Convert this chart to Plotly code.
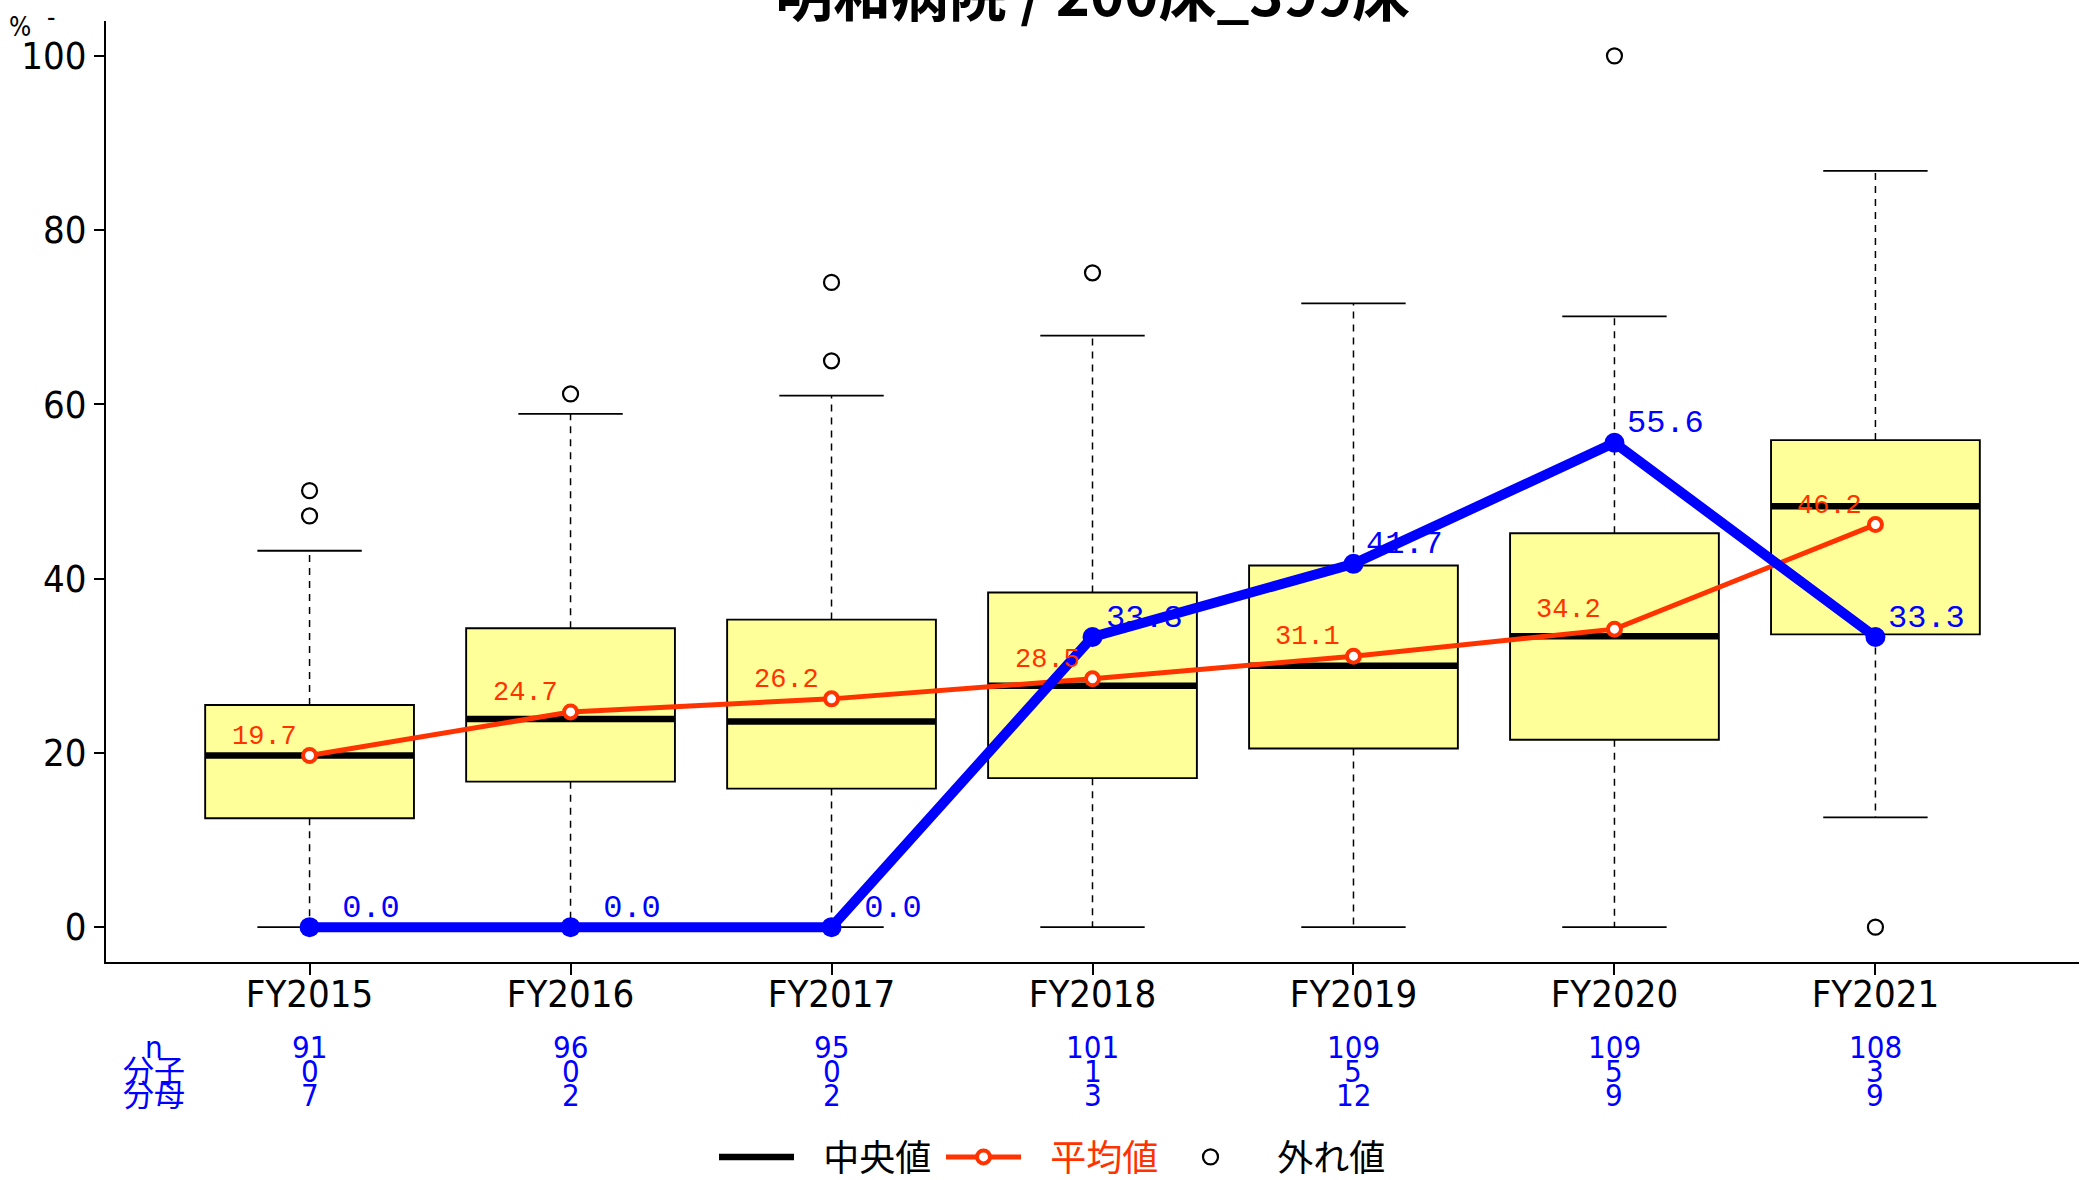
import plotly.graph_objects as go

# ---------------- data ----------------
categories = ["FY2015", "FY2016", "FY2017", "FY2018", "FY2019", "FY2020", "FY2021"]
q1 = [12.5, 16.7, 15.9, 17.1, 20.5, 21.5, 33.6]
median = [19.7, 23.9, 23.6, 27.7, 30.0, 33.4, 48.3]
q3 = [25.5, 34.3, 35.3, 38.4, 41.5, 45.2, 55.9]
lower_whisker = [0.0, 0.0, 0.0, 0.0, 0.0, 0.0, 12.6]
upper_whisker = [43.2, 58.9, 61.0, 67.9, 71.6, 70.1, 86.8]
outliers = [[50.1, 47.2], [61.2], [65.0, 74.0], [75.1], [], [100.0], [0.0]]
mean_values = [19.7, 24.7, 26.2, 28.5, 31.1, 34.2, 46.2]
hospital_values = [0.0, 0.0, 0.0, 33.3, 41.7, 55.6, 33.3]
n_values = [91, 96, 95, 101, 109, 109, 108]
numerators = [0, 0, 0, 1, 5, 5, 3]
denominators = [7, 2, 2, 3, 12, 9, 9]
row_labels = ["n", "分子", "分母"]
y_ticks = [0, 20, 40, 60, 80, 100]
title_text = "明和病院 / 200床_399床"

# ---------------- style / layout constants ----------------
W, H = 2086, 1180
ML, MR, MT, MB = 106, 7, 21, 218
PLOT_W = W - ML - MR
PLOT_H = H - MT - MB
BOX_W = 0.8
CAP_W = 0.4
RED = "#FF3300"
BLUE = "#0000FF"
YELLOW = "#FFFF99"
NARROW = "Liberation Sans Narrow, Arial Narrow, DejaVu Sans Condensed, Liberation Sans, Noto Sans CJK JP, sans-serif"
MONO = "Liberation Mono, DejaVu Sans Mono, monospace"
CJK = "Noto Sans CJK JP, Liberation Sans Narrow, sans-serif"
PAD = "\u00a0\u00a0\u00a0"


def py(pix):  # pixel row -> paper y
    return (H - MB - pix) / PLOT_H


def px(pix):  # pixel column -> paper x
    return (pix - ML) / PLOT_W


def fmt(v):
    return f"{v:4.1f}".replace(" ", "\u00a0")


xs = list(range(1, len(categories) + 1))

# whiskers (dashed), caps, medians
wx, wy, cx, cy, mx, my = [], [], [], [], [], []
for i, x in enumerate(xs):
    wx += [x, x, None, x, x, None]
    wy += [q3[i], upper_whisker[i], None, q1[i], lower_whisker[i], None]
    cx += [x - CAP_W / 2, x + CAP_W / 2, None, x - CAP_W / 2, x + CAP_W / 2, None]
    cy += [upper_whisker[i], upper_whisker[i], None, lower_whisker[i], lower_whisker[i], None]
    mx += [x - BOX_W / 2, x + BOX_W / 2, None]
    my += [median[i], median[i], None]

ox, oy = [], []
for x, vals in zip(xs, outliers):
    for v in vals:
        ox.append(x)
        oy.append(v)

fig = go.Figure()

fig.add_trace(go.Scatter(x=wx, y=wy, mode="lines", showlegend=False, hoverinfo="skip",
                         line=dict(color="black", width=1.5, dash="7px,6px")))
fig.add_trace(go.Scatter(x=cx, y=cy, mode="lines", showlegend=False, hoverinfo="skip",
                         line=dict(color="black", width=1.8)))
fig.add_trace(go.Box(x=xs, q1=q1, median=median, q3=q3, lowerfence=q1, upperfence=q3,
                     width=BOX_W, fillcolor=YELLOW, line=dict(color="black", width=1.9),
                     whiskerwidth=0, boxpoints=False, showlegend=False, hoverinfo="skip"))
fig.add_trace(go.Scatter(x=mx, y=my, mode="lines", name=PAD + "中央値",
                         line=dict(color="black", width=6.5)))
fig.add_trace(go.Scatter(x=xs, y=mean_values, mode="lines+markers",
                         name=f'{PAD}<span style="color:{RED}">平均値</span>',
                         line=dict(color=RED, width=5),
                         marker=dict(symbol="circle", size=13, color="white",
                                     line=dict(color=RED, width=4))))
fig.add_trace(go.Scatter(x=ox, y=oy, mode="markers", name=PAD + "外れ値",
                         marker=dict(symbol="circle-open", size=15, color="black",
                                     line=dict(color="black", width=2.2))))
fig.add_trace(go.Scatter(x=xs, y=hospital_values, mode="lines+markers", showlegend=False,
                         line=dict(color=BLUE, width=10),
                         marker=dict(symbol="circle", size=20, color=BLUE)))

annotations = []
for x, v in zip(xs, mean_values):
    annotations.append(dict(x=x, y=v, xref="x", yref="y", text=fmt(v), showarrow=False,
                            xanchor="right", yanchor="middle", xshift=-11, yshift=19,
                            font=dict(family=MONO, size=27, color=RED)))
for x, v in zip(xs, hospital_values):
    annotations.append(dict(x=x, y=v, xref="x", yref="y", text=fmt(v), showarrow=False,
                            xanchor="left", yanchor="middle", xshift=11, yshift=19,
                            font=dict(family=MONO, size=32, color=BLUE)))

row_pix = [1047, 1071, 1095]
rows = [n_values, numerators, denominators]
for label, rp, vals in zip(row_labels, row_pix, rows):
    annotations.append(dict(x=px(154), y=py(rp), xref="paper", yref="paper", text=label,
                            showarrow=False, xanchor="center", yanchor="middle",
                            font=dict(family=NARROW, size=31, color=BLUE)))
    for x, v in zip(xs, vals):
        annotations.append(dict(x=x, y=py(rp), xref="x", yref="paper", text=str(v),
                                showarrow=False, xanchor="center", yanchor="middle",
                                font=dict(family=NARROW, size=31, color=BLUE)))

annotations.append(dict(x=0.5, y=py(-9), xref="paper", yref="paper", text=f"<b>{title_text}</b>",
                        showarrow=False, xanchor="center", yanchor="middle",
                        font=dict(family=CJK, size=58, color="black")))
annotations.append(dict(x=px(20), y=py(27), xref="paper", yref="paper", text="%",
                        showarrow=False, xanchor="center", yanchor="middle",
                        font=dict(family=NARROW, size=26, color="black")))
annotations.append(dict(x=px(51), y=py(17), xref="paper", yref="paper", text="-",
                        showarrow=False, xanchor="center", yanchor="middle",
                        font=dict(family=NARROW, size=26, color="black")))

fig.update_layout(
    width=W, height=H,
    margin=dict(l=ML, r=MR, t=MT, b=MB, pad=0, autoexpand=False),
    paper_bgcolor="white", plot_bgcolor="white",
    annotations=annotations,
    legend=dict(orientation="h", x=px(714), xanchor="left", y=py(1157), yanchor="middle",
                font=dict(family=CJK, size=36, color="black"), bgcolor="rgba(0,0,0,0)",
                traceorder="normal", itemwidth=75, entrywidth=137, entrywidthmode="pixels"),
    xaxis=dict(range=[0.22, 7.78], tickmode="array", tickvals=xs, ticktext=categories,
               ticks="outside", ticklen=11, tickwidth=1.5, tickcolor="black",
               ticklabelstandoff=-14,
               showline=True, linewidth=2, linecolor="black", showgrid=False, zeroline=False,
               tickfont=dict(family=NARROW, size=38, color="black")),
    yaxis=dict(range=[-4, 104], tickmode="array", tickvals=y_ticks,
               ticks="outside", ticklen=10, tickwidth=1.5, tickcolor="black",
               showline=True, linewidth=2, linecolor="black", showgrid=False, zeroline=False,
               tickfont=dict(family=NARROW, size=38, color="black")),
    hovermode=False,
)

fig.write_html("out.html", config={"displayModeBar": False},
               post_script="document.body.style.margin='0px';document.body.style.overflow='hidden';")
